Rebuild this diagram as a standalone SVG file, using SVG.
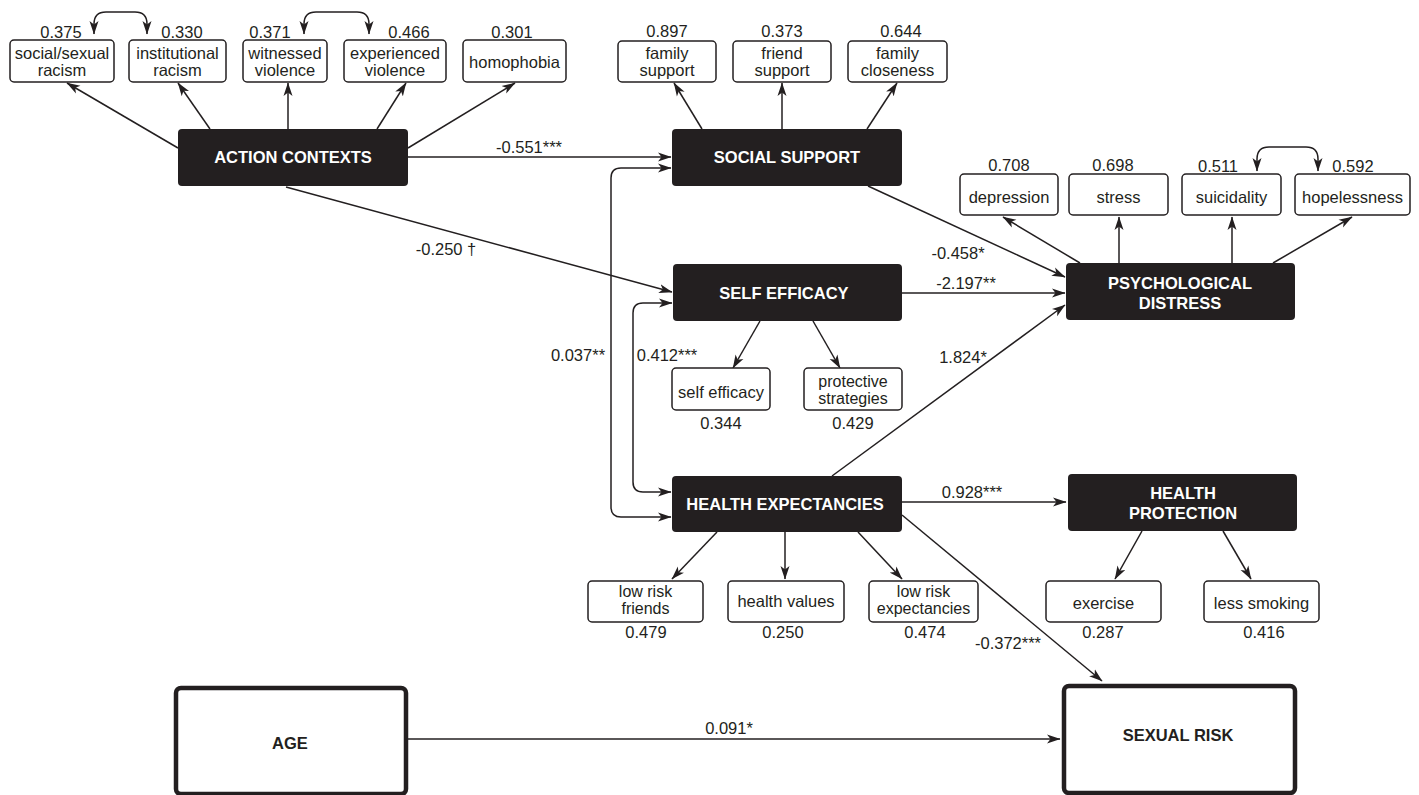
<svg xmlns="http://www.w3.org/2000/svg" width="1419" height="795" viewBox="0 0 1419 795">
<style>
text{font-family:"Liberation Sans",Arial,sans-serif;fill:#231f20;text-anchor:middle;font-size:16.5px}
.lat rect{fill:#231f20;stroke:none}
.lat text{fill:#ffffff;font-weight:bold}
.ind rect{fill:#ffffff;stroke:#231f20;stroke-width:1.5}
.obs rect{fill:#ffffff;stroke:#231f20;stroke-width:4.5}
.obs text{font-weight:bold}
.tight{font-size:16px}
.conn path{fill:none;stroke:#231f20;stroke-width:1.5;marker-end:url(#ah)}
.conn path.cov{marker-start:url(#ah)}
</style>
<defs>
<marker id="ah" markerUnits="userSpaceOnUse" markerWidth="14" markerHeight="10" viewBox="0 0 14 10" refX="13" refY="5" orient="auto-start-reverse">
<path d="M0,0.5 L13.5,5 L0,9.5 L3.5,5 z" fill="#231f20"/>
</marker>
</defs>
<rect x="0" y="0" width="1419" height="795" fill="#ffffff"/>

<g id="connectors" class="conn">
<path d="M178,148 L67,83"/>
<path d="M210,129 L178,83"/>
<path d="M288,129 L288,83"/>
<path d="M377,129 L406,83"/>
<path d="M408,148 L515,83"/>
<path d="M702,129 L674,83"/>
<path d="M782,129 L782,83"/>
<path d="M867,129 L897,83"/>
<path d="M408,157 L671,157"/>
<path d="M286,187 L672,292"/>
<path class="cov" d="M671,168 L621,168 Q611,168 611,178 L611,507 Q611,517 621,517 L671,517"/>
<path class="cov" d="M672,303 L643,303 Q633,303 633,313 L633,482 Q633,492 643,492 L671,492"/>
<path d="M760,321 L733,368"/>
<path d="M813,321 L840,368"/>
<path d="M868,186 L1065,277"/>
<path d="M902,293 L1065,293"/>
<path d="M832,476 L1065,305"/>
<path d="M1080,263 L1003,217"/>
<path d="M1119,263 L1119,217"/>
<path d="M1232,263 L1232,217"/>
<path d="M1273,263 L1352,217"/>
<path d="M717,532 L672,579"/>
<path d="M785,532 L785,579"/>
<path d="M858,532 L902,579"/>
<path d="M902,502 L1066,502"/>
<path d="M902,515 L1102,681"/>
<path d="M1142,531 L1115,579"/>
<path d="M1223,531 L1251,579"/>
<path d="M408,739 L1060,739"/>
<path class="cov" d="M94,34 L94,24 Q94,12 106,12 L135,12 Q147,12 147,24 L147,34"/>
<path class="cov" d="M304,34 L304,24 Q304,12 316,12 L357,12 Q369,12 369,24 L369,34"/>
<path class="cov" d="M1257,171 L1257,159 Q1257,147 1269,147 L1306,147 Q1318,147 1318,159 L1318,171"/>
</g>

<g id="path-labels">
<text x="529" y="153">-0.551***</text>
<text x="446" y="255">-0.250 †</text>
<text x="958" y="259">-0.458*</text>
<text x="966" y="289">-2.197**</text>
<text x="963" y="363">1.824*</text>
<text x="578" y="361">0.037**</text>
<text x="667" y="361">0.412***</text>
<text x="972" y="498">0.928***</text>
<text x="1008" y="649">-0.372***</text>
<text x="729" y="734">0.091*</text>
</g>

<g id="action-contexts" class="lat"><rect x="178" y="129" width="230" height="57" rx="4"/><text x="293" y="163">ACTION CONTEXTS</text></g>
<g id="social-support" class="lat"><rect x="672" y="129" width="230" height="57" rx="4"/><text x="787" y="163">SOCIAL SUPPORT</text></g>
<g id="self-efficacy" class="lat"><rect x="673" y="264" width="229" height="57" rx="4"/><text x="784" y="299">SELF EFFICACY</text></g>
<g id="psychological-distress" class="lat"><rect x="1066" y="263" width="229" height="57" rx="4"/><text x="1180" y="289">PSYCHOLOGICAL</text><text x="1180" y="309">DISTRESS</text></g>
<g id="health-expectancies" class="lat"><rect x="672" y="476" width="230" height="56" rx="4"/><text x="785" y="510">HEALTH EXPECTANCIES</text></g>
<g id="health-protection" class="lat"><rect x="1068" y="474" width="229" height="57" rx="4"/><text x="1183" y="499">HEALTH</text><text x="1183" y="519">PROTECTION</text></g>

<g id="age" class="obs"><rect x="176" y="688" width="230" height="106" rx="5"/><text x="290" y="749">AGE</text></g>
<g id="sexual-risk" class="obs"><rect x="1064" y="686" width="231" height="107" rx="5"/><text x="1178" y="741">SEXUAL RISK</text></g>

<g id="social-sexual-racism" class="ind"><rect x="10" y="40" width="104" height="42" rx="4"/><text x="62" y="59">social/sexual</text><text x="62" y="76">racism</text><text x="61" y="38">0.375</text></g>
<g id="institutional-racism" class="ind"><rect x="129" y="40" width="97" height="42" rx="4"/><text x="177.5" y="59">institutional</text><text x="177.5" y="76">racism</text><text x="182" y="38">0.330</text></g>
<g id="witnessed-violence" class="ind"><rect x="243" y="40" width="84" height="42" rx="4"/><text x="285" y="59">witnessed</text><text x="285" y="76">violence</text><text x="270" y="38">0.371</text></g>
<g id="experienced-violence" class="ind"><rect x="344" y="40" width="102" height="42" rx="4"/><text x="395" y="59">experienced</text><text x="395" y="76">violence</text><text x="409" y="38">0.466</text></g>
<g id="homophobia" class="ind"><rect x="463" y="40" width="103" height="42" rx="4"/><text x="514.5" y="68">homophobia</text><text x="512" y="38">0.301</text></g>

<g id="family-support" class="ind"><rect x="618" y="41" width="98" height="41" rx="4"/><text x="667" y="59">family</text><text x="667" y="76">support</text><text x="667" y="37">0.897</text></g>
<g id="friend-support" class="ind"><rect x="733" y="41" width="98" height="41" rx="4"/><text x="782" y="59">friend</text><text x="782" y="76">support</text><text x="782" y="37">0.373</text></g>
<g id="family-closeness" class="ind"><rect x="848" y="41" width="99" height="41" rx="4"/><text x="897.5" y="59">family</text><text x="897.5" y="76">closeness</text><text x="901" y="37">0.644</text></g>

<g id="depression" class="ind"><rect x="960" y="174" width="98" height="41" rx="4"/><text x="1009" y="203">depression</text><text x="1009" y="171">0.708</text></g>
<g id="stress" class="ind"><rect x="1069" y="174" width="99" height="41" rx="4"/><text x="1118.5" y="203">stress</text><text x="1113" y="171">0.698</text></g>
<g id="suicidality" class="ind"><rect x="1182" y="174" width="99" height="41" rx="4"/><text x="1231.5" y="203">suicidality</text><text x="1218" y="172">0.511</text></g>
<g id="hopelessness" class="ind"><rect x="1295" y="174" width="115" height="41" rx="4"/><text x="1352.5" y="203">hopelessness</text><text x="1353" y="172">0.592</text></g>

<g id="self-efficacy-ind" class="ind"><rect x="672" y="368" width="98" height="42" rx="4"/><text x="721" y="398">self efficacy</text><text x="721" y="429">0.344</text></g>
<g id="protective-strategies" class="ind"><rect x="804" y="368" width="98" height="42" rx="4"/><text class="tight" x="853" y="387">protective</text><text class="tight" x="853" y="404">strategies</text><text x="853" y="429">0.429</text></g>

<g id="low-risk-friends" class="ind"><rect x="588" y="581" width="115" height="41" rx="4"/><text class="tight" x="645.5" y="597">low risk</text><text class="tight" x="645.5" y="614">friends</text><text x="646" y="638">0.479</text></g>
<g id="health-values" class="ind"><rect x="728" y="581" width="116" height="41" rx="4"/><text x="786" y="607">health values</text><text x="783" y="638">0.250</text></g>
<g id="low-risk-expectancies" class="ind"><rect x="869" y="581" width="109" height="41" rx="4"/><text class="tight" x="923.5" y="597">low risk</text><text class="tight" x="923.5" y="614">expectancies</text><text x="925" y="638">0.474</text></g>

<g id="exercise" class="ind"><rect x="1046" y="581" width="115" height="41" rx="4"/><text x="1103.5" y="609">exercise</text><text x="1103" y="638">0.287</text></g>
<g id="less-smoking" class="ind"><rect x="1204" y="581" width="115" height="41" rx="4"/><text x="1261.5" y="609">less smoking</text><text x="1264" y="638">0.416</text></g>
</svg>
